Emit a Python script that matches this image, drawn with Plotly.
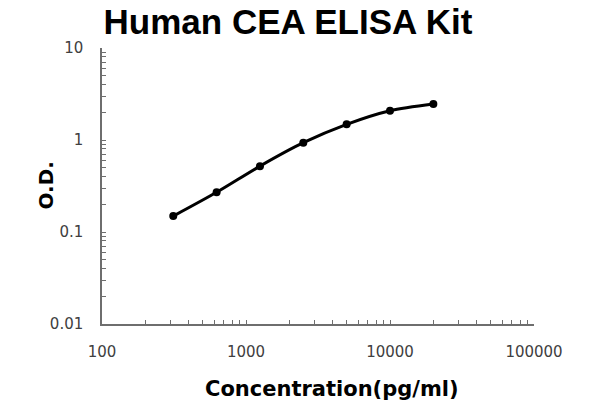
import plotly.graph_objects as go

# Data
concentration = [312.5, 625, 1250, 2500, 5000, 10000, 20000]
od_values = [0.149, 0.270, 0.52, 0.935, 1.48, 2.08, 2.46]

x_tick_vals = [100, 1000, 10000, 100000]
x_tick_text = ["100", "1000", "10000", "100000"]
y_tick_vals = [0.01, 0.1, 1, 10]
y_tick_text = ["0.01", "0.1", "1", "10"]

title_text = "Human CEA ELISA Kit"
x_title = "Concentration(pg/ml)"
y_title = "O.D."

W, H = 600, 400
OFF = 8  # page body offset compensation
ml_t, mt_t = 102, 48          # target positions in the window
plot_w, plot_h = 432, 276
ml, mt = ml_t - OFF, mt_t - OFF
mr = W - ml - plot_w
mb = H - mt - plot_h

fig = go.Figure()
fig.add_trace(go.Scatter(
    x=concentration, y=od_values,
    mode="lines+markers",
    line=dict(color="black", width=3, shape="spline", smoothing=0.8),
    marker=dict(color="black", size=8),
    showlegend=False,
    hoverinfo="skip",
))

axis_common = dict(
    type="log",
    automargin=False,
    showgrid=False,
    zeroline=False,
    showline=True,
    linecolor="#6e6e6e",
    linewidth=1.5,
    ticks="inside",
    ticklen=4,
    tickcolor="#6e6e6e",
    tickwidth=1,
    tickmode="array",
    tickfont=dict(family="DejaVu Sans", size=15, color="#404040"),
    minor=dict(ticks="inside", ticklen=4, tickcolor="#6e6e6e", tickwidth=1, dtick="D1", showgrid=False),
)

fig.update_xaxes(
    **axis_common,
    range=[2, 5],
    tickvals=x_tick_vals,
    ticktext=x_tick_text,
    ticklabelstandoff=13,
)
fig.update_yaxes(
    **axis_common,
    range=[-2, 1],
    tickvals=y_tick_vals,
    ticktext=y_tick_text,
    ticklabelstandoff=14,
)

fig.update_layout(
    width=W, height=H,
    margin=dict(l=ml, r=mr, t=mt, b=mb, autoexpand=False),
    paper_bgcolor="white",
    plot_bgcolor="white",
    title=dict(
        text=f"<b>{title_text}</b>",
        font=dict(family="Liberation Sans, Arial", size=35, color="black"),
        xref="container", yref="container",
        x=(288 - OFF) / W, xanchor="center",
        y=1 - (22 - OFF) / H, yanchor="middle",
        automargin=False,
    ),
    annotations=[
        dict(
            text=f"<b>{x_title}</b>",
            xref="paper", yref="paper",
            x=(332 - ml_t) / plot_w, y=-(389 - (mt_t + plot_h)) / plot_h,
            xanchor="center", yanchor="middle",
            showarrow=False,
            font=dict(family="DejaVu Sans", size=21, color="black"),
        ),
        dict(
            text=f"<b>{y_title}</b>",
            xref="paper", yref="paper",
            x=-(ml_t - 45.5) / plot_w, y=0.5,
            xanchor="center", yanchor="middle",
            textangle=-90,
            showarrow=False,
            font=dict(family="DejaVu Sans", size=20, color="black"),
        ),
    ],
)

fig.write_html("out.html")
